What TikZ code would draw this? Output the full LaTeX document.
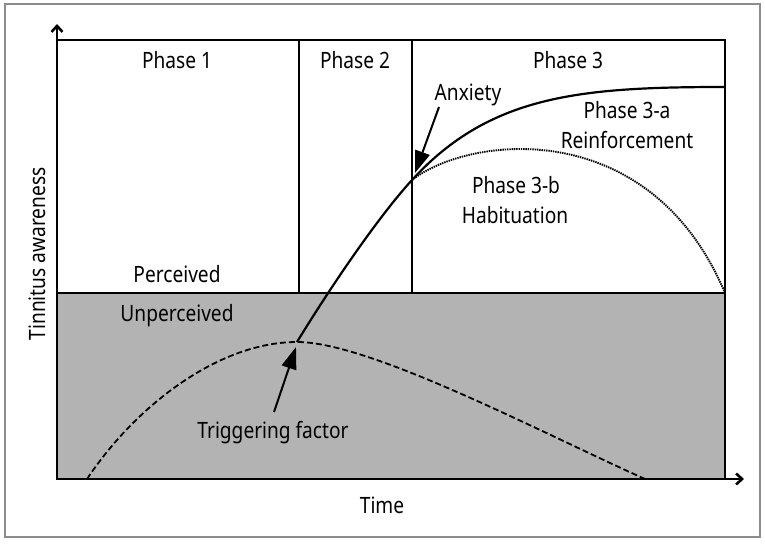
\documentclass[tikz,border=0pt]{standalone}
\usepackage{fontspec}
\setmainfont{Noto Sans}[FakeStretch=0.85]
\usetikzlibrary{arrows.meta}
\definecolor{shadegray}{RGB}{179,179,179}
\definecolor{framegray}{RGB}{140,140,140}
\begin{document}
\begin{tikzpicture}[x=1pt,y=-1pt,
  lbl/.style={font=\fontsize{22.5pt}{27pt}\selectfont, anchor=base, inner sep=0pt},
  boxline/.style={line width=1.3pt, line join=miter},
  axisline/.style={line width=2.6pt, line join=miter, {Straight Barb[length=6pt,width=11pt]}-{Straight Barb[length=6pt,width=11pt]}},
  pointer/.style={line width=2pt, -{Triangle[length=22pt,width=15pt]}},
  solidcurve/.style={line width=2.2pt},
  dashcurve/.style={line width=1.8pt, dash pattern=on 6pt off 3pt},
  dotcurve/.style={line width=1.9pt, dash pattern=on 1.4pt off 0.9pt}
]
\useasboundingbox (0,0) rectangle (765,543);
\draw[framegray, line width=1.2pt] (5,4) rectangle (760,537);

% unperceived region
\fill[shadegray] (57,293) rectangle (725,479);

% box lines
\draw[boxline] (57,40) -- (725,40) -- (725,479);
\draw[boxline] (57,293) -- (725,293);
\draw[boxline] (299,40) -- (299,293);
\draw[boxline] (412,40) -- (412,293);

% axes
\coordinate (O) at (57,479);
\coordinate (ytip) at (57,24);
\coordinate (xtip) at (744,479);
\draw[axisline] (ytip) -- (O) -- (xtip);

% key points
\coordinate (peak) at (297,342);
\coordinate (meet) at (412,180);

% curves
\draw[dashcurve] (87,479) .. controls (137,404) and (220,342) .. (peak)
                 .. controls (370,342) and (540,432) .. (645,479);
\draw[solidcurve] (peak) .. controls (335,280) and (380,215) .. (meet)
                  .. controls (490,95) and (580,87) .. (725,87);
\draw[dotcurve] (meet) .. controls (470,135) and (650,115) .. (725,293);

% labels
\node[lbl] (p1) at (177,68) {Phase 1};
\node[lbl] (p2) at (355,68) {Phase 2};
\node[lbl] (p3) at (568,68) {Phase 3};
\node[lbl] (anx) at (468,100) {Anxiety};
\node[lbl] (p3a) at (627,118) {Phase 3-a};
\node[lbl] (reinf) at (627,148) {Reinforcement};
\node[lbl] (p3b) at (516,193) {Phase 3-b};
\node[lbl] (hab) at (515,223) {Habituation};
\node[lbl] (perc) at (177,282) {Perceived};
\node[lbl] (unperc) at (177,321) {Unperceived};
\node[lbl] (trig) at (273,438) {Triggering factor};
\node[lbl] (time) at (382,513) {Time};
\node[lbl, rotate=90] (yl) at (45,254) {Tinnitus awareness};

% pointers
\coordinate (anxtail) at (439,107);
\coordinate (anxtip) at (415,173);
\coordinate (trigtail) at (274,412);
\coordinate (trigtip) at (296,347);
\draw[pointer] (anxtail) -- (anxtip);
\draw[pointer] (trigtail) -- (trigtip);
\end{tikzpicture}
\end{document}
